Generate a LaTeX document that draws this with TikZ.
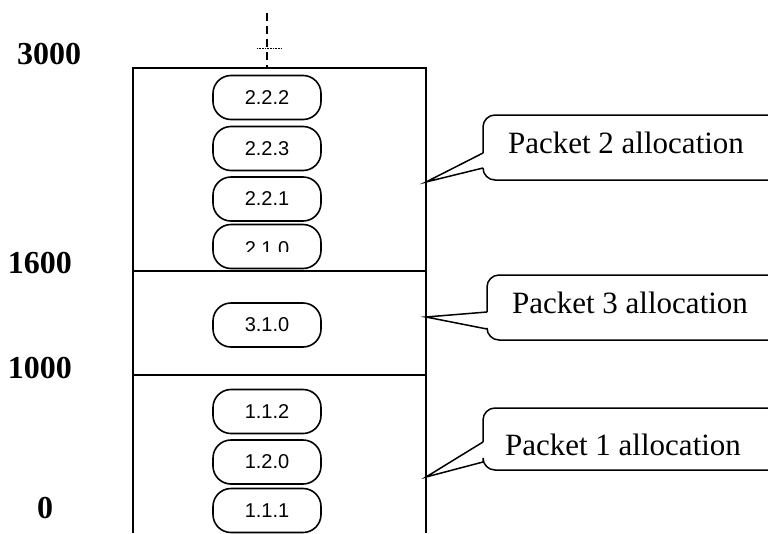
\documentclass[tikz,border=0pt]{standalone}
\usepackage{fontspec}
\setmainfont{Liberation Serif}
\newfontfamily\pillfont{Liberation Sans}
\begin{document}
\begin{tikzpicture}[x=1pt,y=-1pt,
    wall/.style={line width=1.6pt},
    pill/.style={draw,line width=1.6pt,rounded corners=18pt,minimum width=108pt,
        minimum height=44pt,inner sep=0pt,font=\pillfont\fontsize{20}{20}\selectfont},
    balloon/.style={draw,line width=1.5pt},
    addr/.style={font=\bfseries\fontsize{32}{32}\selectfont},
    tag/.style={anchor=base,font=\fontsize{31}{31}\selectfont}]

\useasboundingbox (0,0) rectangle (768,533);
\clip (0,0) rectangle (768,533);

% Memory area
\draw[wall] (133,533) -- (133,68) -- (426,68) -- (426,533);
\draw[wall] (133,271) -- (426,271);
\draw[wall] (133,375) -- (426,375);

% Top marker
\draw[line width=1.5pt,dash pattern=on 8pt off 5pt] (267,13) -- (267,68);
\draw[densely dotted,line width=0.6pt] (257,48) -- (282,48);

% Addresses
\node[addr] (a3000) at (49,54) {3000};
\node[addr] (a1600) at (40,263) {1600};
\node[addr] (a1000) at (40,368) {1000};
\node[addr] (a0) at (45,508) {0};

% Blocks
\foreach \name/\txt/\y in {p222/2.2.2/97.5, p223/2.2.3/148.5, p221/2.2.1/199,
    p310/3.1.0/325, p112/1.1.2/411.5, p120/1.2.0/462, p111/1.1.1/510.5}
  \node[pill] (\name) at (267,\y) {\txt};

\node[pill] (p210) at (267,246.5) {};
\begin{scope}
  \clip (200,220) rectangle (340,251);
  \node[font=\pillfont\fontsize{20}{20}\selectfont] at ([yshift=-2pt]p210) {2.1.0};
\end{scope}

% Callouts
\node[tag] (pk2) at (626,153) {Packet 2 allocation};
\node[tag] (pk3) at (630,313) {Packet 3 allocation};
\node[tag] (pk1) at (623,455) {Packet 1 allocation};

\coordinate (t2) at (426,182);
\coordinate (t3) at (426,317);
\coordinate (t1) at (426,477);

\foreach \tip/\lx/\ytop/\ybot/\ba/\bb in {t2/483/115/180/153/168,
    t3/487/275/340/312/329, t1/483/408/470/442/462} {
  \draw[balloon,rounded corners=12pt] (\lx,\ba) -- (\lx,\ytop) -- (800,\ytop)
      -- (800,\ybot) -- (\lx,\ybot) -- (\lx,\bb);
  \draw[balloon] (\lx,\ba) -- (\tip) -- (\lx,\bb);
}

\end{tikzpicture}
\end{document}
